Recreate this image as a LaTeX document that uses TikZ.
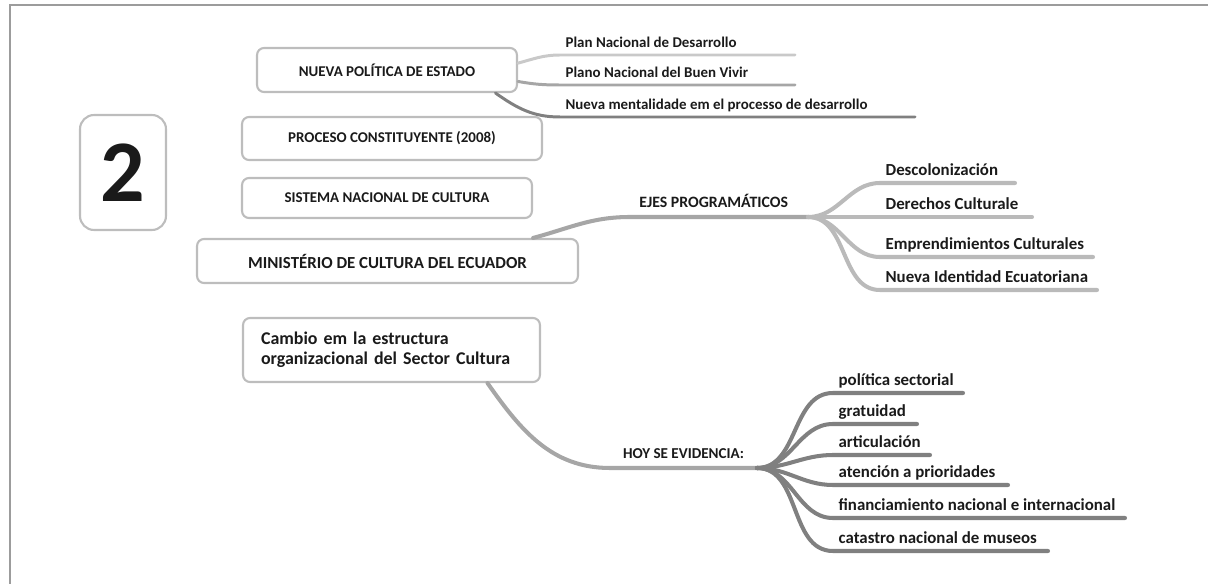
\documentclass[tikz,border=0pt]{standalone}
\usepackage{fontspec}
\setmainfont{Carlito}
\definecolor{framegray}{HTML}{9C9C9C}
\definecolor{boxgray}{HTML}{BDBDBD}
\definecolor{lightbr}{HTML}{C9C9C9}
\definecolor{midbr}{HTML}{A6A6A6}
\definecolor{darkbr}{HTML}{808080}
\definecolor{ejesbr}{HTML}{BABABA}
\definecolor{txtblack}{HTML}{1A1A1A}
\begin{document}
\begin{tikzpicture}[x=0.02cm,y=-0.02cm,
    box/.style={draw=boxgray,line width=1.2pt,rounded corners=4pt,fill=white,
        text=txtblack,font=\bfseries\fontsize{8.5}{10}\selectfont},
    lbl/.style={anchor=south west,inner xsep=3pt,inner ysep=1.8pt,text depth=0.25em,
        text=txtblack,font=\bfseries\fontsize{8.5}{10}\selectfont},
    biglbl/.style={lbl,font=\bfseries\fontsize{9.6}{11}\selectfont},
    br/.style={line width=1.7pt,line cap=round},
    fatbr/.style={line width=2.3pt,line cap=round}]
    \useasboundingbox (0,0) rectangle (1208,584);
    \draw[framegray,line width=1.4pt] (10,600) |- (1220,5);

    % numero
    \node[box,rounded corners=8pt,minimum width=1.72cm,minimum height=2.3cm,
        font=\bfseries\fontsize{50}{60}\selectfont] (num) at (123,172.5) {2};

    % cajas principales
    \node[box,minimum width=5.2cm,minimum height=0.88cm] (nueva) at (387,70) {NUEVA POLÍTICA DE ESTADO};
    \node[box,minimum width=6cm,minimum height=0.86cm] (proceso) at (392,138.5) {PROCESO CONSTITUYENTE (2008)};
    \node[box,minimum width=5.8cm,minimum height=0.8cm] (sistema) at (387,198) {SISTEMA NACIONAL DE CULTURA};
    \node[box,minimum width=7.62cm,minimum height=0.88cm,
        font=\bfseries\fontsize{9.6}{11}\selectfont] (ministerio) at (387.5,261) {MINISTÉRIO DE CULTURA DEL ECUADOR};
    \node[box,minimum width=5.94cm,minimum height=1.28cm,inner xsep=0.36cm,
        text width=5.22cm,align=left,font=\bfseries\fontsize{10.2}{11.5}\selectfont] (cambio) at (391.5,350)
        {Cambio em la estructura\\organizacional del Sector Cultura};

    % nueva politica
    \node[lbl] (plan) at (560,55) {Plan Nacional de Desarrollo};
    \node[lbl] (buen) at (560,85) {Plano Nacional del Buen Vivir};
    \node[lbl] (menta) at (560,117) {Nueva mentalidade em el processo de desarrollo};
    \draw[br,lightbr] (nueva.3) to[out=15,in=180] (plan.south west) -- +(235,0);
    \draw[br,midbr] (nueva.-5) to[out=-10,in=180] (buen.south west) -- +(235,0);
    \draw[br,darkbr] (nueva.-12) to[out=-35,in=180] (menta.south west) -- +(355,0);

    % ejes programaticos
    \coordinate (ejeshub) at (808,217);
    \draw[fatbr,midbr] (ministerio.9.5) to[out=15,in=180] (630,217)
        -- (ejeshub) node[pos=0.47,above=1pt,text=txtblack,
        font=\bfseries\fontsize{9}{10}\selectfont] (ejes) {EJES PROGRAMÁTICOS};
    \node[biglbl] (desco) at (880,183) {Descolonización};
    \node[biglbl] (derechos) at (880,217) {Derechos Culturale};
    \node[biglbl] (empre) at (880,257) {Emprendimientos Culturales};
    \node[biglbl] (identidad) at (880,290) {Nueva Identidad Ecuatoriana};
    \draw[fatbr,ejesbr] (ejeshub) to[out=0,in=180] (desco.south west) -- +(135,0);
    \draw[fatbr,ejesbr] (ejeshub) -- (derechos.south west) -- +(152,0);
    \draw[fatbr,ejesbr] (ejeshub) to[out=0,in=180] (empre.south west) -- +(213,0);
    \draw[fatbr,ejesbr] (ejeshub) to[out=0,in=180] (identidad.south west) -- +(217,0);

    % hoy se evidencia
    \coordinate (hoyhub) at (757,468);
    \draw[fatbr,midbr] (cambio.-19) to[out=-55,in=180] (610,468)
        -- (hoyhub) node[pos=0.5,above=1pt,text=txtblack,
        font=\bfseries\fontsize{8.6}{10}\selectfont] (hoy) {HOY SE EVIDENCIA:};
    \node[biglbl] (politica) at (833,393) {política sectorial};
    \node[biglbl] (gratuidad) at (833,424) {gratuidad};
    \node[biglbl] (articula) at (833,455) {articulación};
    \node[biglbl] (atencion) at (833,485) {atención a prioridades};
    \node[biglbl] (financia) at (833,518) {financiamiento nacional e internacional};
    \node[biglbl] (catastro) at (833,551) {catastro nacional de museos};
    \draw[fatbr,darkbr] (hoyhub) to[out=0,in=180] (politica.south west) -- +(130,0);
    \draw[fatbr,darkbr] (hoyhub) to[out=0,in=180] (gratuidad.south west) -- +(84,0);
    \draw[fatbr,darkbr] (hoyhub) to[out=0,in=180] (articula.south west) -- +(97,0);
    \draw[fatbr,darkbr] (hoyhub) to[out=0,in=180] (atencion.south west) -- +(175,0);
    \draw[fatbr,darkbr] (hoyhub) to[out=0,in=180] (financia.south west) -- +(292,0);
    \draw[fatbr,darkbr] (hoyhub) to[out=0,in=180] (catastro.south west) -- +(215,0);
\end{tikzpicture}
\end{document}
